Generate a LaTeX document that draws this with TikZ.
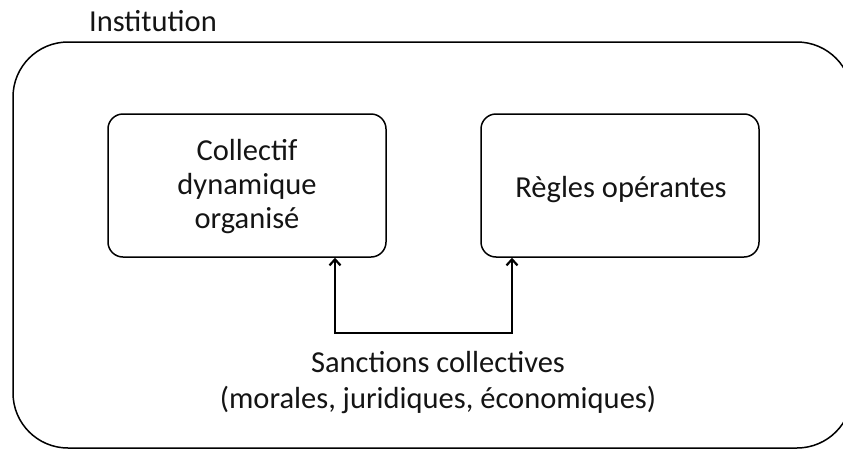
\documentclass[tikz,border=0pt]{standalone}
\usepackage{fontspec}
\setmainfont{Carlito}
\usetikzlibrary{arrows.meta}
\begin{document}
\begin{tikzpicture}[x=1pt,y=-1pt,
  txt/.style={font=\fontsize{30.5}{34}\selectfont, text=black!92, align=center, inner sep=0pt},
  box/.style={draw, line width=1.5pt, rounded corners=15pt, minimum width=278pt, minimum height=143pt, inner sep=0pt},
  arr/.style={line width=2.6pt, line join=miter, -{Straight Barb[length=6pt,width=11pt,line width=2.2pt]}}]
\useasboundingbox (0,0) rectangle (843,450);
\draw[line width=1.5pt, rounded corners=55pt] (13,42) rectangle (852,448);
\node[txt, anchor=base west] (inst) at (89,31) {Institution};
\node[box] (L) at (247,185.5) {};
\node[txt, anchor=base] (Lt) at (247,228) {Collectif\\dynamique\\organisé};
\node[box] (R) at (620,185.5) {};
\node[txt, anchor=base] (Rt) at (621,197) {Règles opérantes};
\coordinate (j1) at (335,333);
\coordinate (j2) at (512,333);
\draw[arr] (j2) -- (j1) -- (j1 |- L.south);
\draw[arr] (j1) -- (j2) -- (j2 |- R.south);
\node[txt, anchor=base, font=\fontsize{30.5}{36}\selectfont] (S) at (438,408) {Sanctions collectives\\(morales, juridiques, économiques)};
\end{tikzpicture}
\end{document}
